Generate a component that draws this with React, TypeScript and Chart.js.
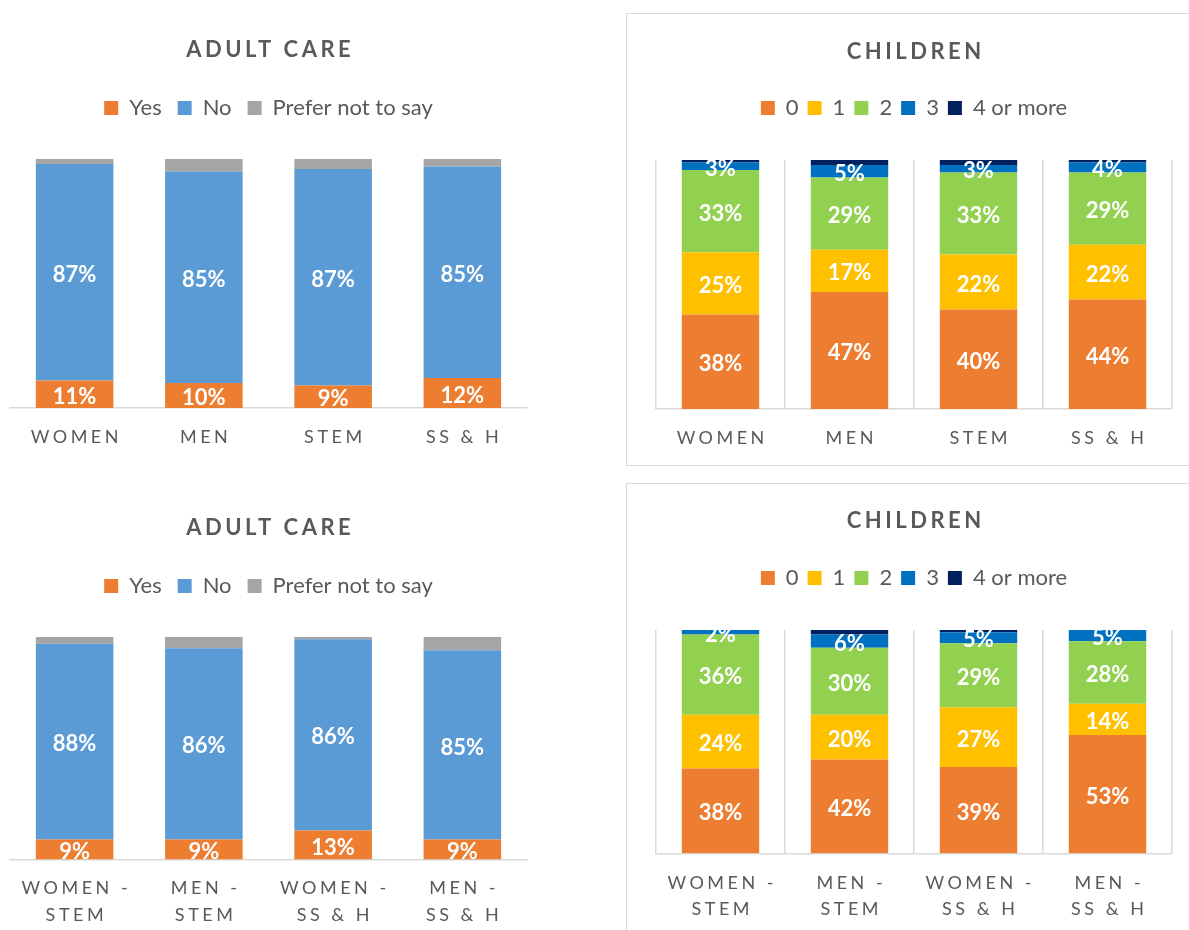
import React, { useEffect, useRef } from 'react';
import { Chart, registerables } from 'chart.js';

Chart.register(...registerables);

const FONT = 'Lato';
const TEXT = '#595959';
const RULE = '#d9d9d9';

// ---------- data ----------
const adultTitle = 'ADULT CARE';
const childrenTitle = 'CHILDREN';

const groupCategories = ['WOMEN', 'MEN', 'STEM', 'SS & H'];
const crossCategories = [
  ['WOMEN -', 'STEM'],
  ['MEN -', 'STEM'],
  ['WOMEN -', 'SS & H'],
  ['MEN -', 'SS & H'],
];

const adultSeries = ['Yes', 'No', 'Prefer not to say'];
const adultColors = ['#ED7D31', '#5B9BD5', '#A5A5A5'];

const adultYesGroup = [11, 10, 9, 12];
const adultNoGroup = [87, 85, 87, 85];
const adultPreferGroup = [2, 5, 4, 3];

const adultYesCross = [9, 9, 13, 9];
const adultNoCross = [88, 86, 86, 85];
const adultPreferCross = [3, 5, 1, 6];

const childSeries = ['0', '1', '2', '3', '4 or more'];
const childColors = ['#ED7D31', '#FFC000', '#92D050', '#0070C0', '#002060'];

const kids0Group = [38, 47, 40, 44];
const kids1Group = [25, 17, 22, 22];
const kids2Group = [33, 29, 33, 29];
const kids3Group = [3, 5, 3, 4];
const kids4Group = [1, 2, 2, 1];

const kids0Cross = [38, 42, 39, 53];
const kids1Cross = [24, 20, 27, 14];
const kids2Cross = [36, 30, 29, 28];
const kids3Cross = [2, 6, 5, 5];
const kids4Cross = [0, 2, 1, 0];

// series whose values are not printed on the bars
const unlabeledSeries = ['Prefer not to say', '4 or more'];

// 100% stacked: each column is scaled to its own total
function buildDatasets(names: string[], colors: string[], values: number[][]) {
  const n = values[0].length;
  const totals = Array.from({ length: n }, (_, j) => values.reduce((s, v) => s + v[j], 0));
  return names.map((name, i) => ({
    label: name,
    data: values[i].map((v, j) => (v / totals[j]) * 100),
    rawValues: values[i],
    showValues: !unlabeledSeries.includes(name),
    backgroundColor: colors[i],
    borderWidth: 0,
    categoryPercentage: 1,
    barPercentage: 0.6,
  }));
}

// ---------- plugins ----------
const tweaksPlugin = {
  id: 'tweaks',
  beforeLayout(chart: any, _args: any, opts: any) {
    if (chart.$tweaked) return;
    chart.$tweaked = true;
    const legend = chart.legend;
    if (legend) {
      const fit = legend.fit;
      legend.fit = function () {
        fit.call(this);
        this.height += opts.legendGap || 0;
      };
    }
    const title = chart.titleBlock;
    if (title) {
      const draw = title.draw;
      title.draw = function (...a: any[]) {
        const ctx = this.ctx;
        ctx.save();
        ctx.letterSpacing = opts.titleSpacing + 'px';
        ctx.translate(opts.titleSpacing / 2, 0);
        draw.apply(this, a);
        ctx.restore();
      };
    }
  },
  beforeDraw(chart: any, _args: any, opts: any) {
    const x = chart.scales.x;
    if (!x || x.$tweaked) return;
    x.$tweaked = true;
    const drawLabels = x.drawLabels;
    x.drawLabels = function (...a: any[]) {
      const ctx = this.ctx;
      ctx.save();
      ctx.letterSpacing = opts.tickSpacing + 'px';
      ctx.translate(opts.tickSpacing / 2, 0);
      drawLabels.apply(this, a);
      ctx.restore();
    };
  },
};

const barLabelsPlugin = {
  id: 'barLabels',
  afterDatasetsDraw(chart: any) {
    const { ctx, chartArea } = chart;
    ctx.save();
    ctx.beginPath();
    ctx.rect(chartArea.left, chartArea.top, chartArea.right - chartArea.left, chartArea.bottom - chartArea.top);
    ctx.clip();
    ctx.font = `bold 22px ${FONT}`;
    ctx.fillStyle = '#ffffff';
    ctx.textAlign = 'center';
    ctx.textBaseline = 'middle';
    chart.data.datasets.forEach((ds: any, i: number) => {
      if (!ds.showValues) return;
      const meta = chart.getDatasetMeta(i);
      meta.data.forEach((bar: any, j: number) => {
        const raw = ds.rawValues[j];
        if (!raw) return;
        const p = bar.getProps(['x', 'y', 'base'], true);
        ctx.fillText(`${raw}%`, p.x, (p.y + p.base) / 2 + 2.5);
      });
    });
    ctx.restore();
  },
};

// ---------- panels ----------
type Panel = {
  left: number;
  top: number;
  boxed: boolean;
  boxW: number;
  boxH: number;
  canvasW: number;
  canvasH: number;
  padding: { left: number; right: number; top: number; bottom: number };
  title: string;
  titlePad: { top: number; bottom: number };
  legendPad: number;
  legendGap: number;
  tickPad: number;
  tickLineHeight: number;
  grid: boolean;
  labels: any[];
  datasets: any[];
};

const panels: Panel[] = [
  {
    left: 0, top: 0, boxed: false, boxW: 540, boxH: 470, canvasW: 540, canvasH: 467,
    padding: { left: 10, right: 13, top: 0, bottom: 0 },
    title: adultTitle, titlePad: { top: 36.5, bottom: 18.1 }, legendPad: 16, legendGap: 30,
    tickPad: 16, tickLineHeight: 1.5, grid: false,
    labels: groupCategories,
    datasets: buildDatasets(adultSeries, adultColors, [adultYesGroup, adultNoGroup, adultPreferGroup]),
  },
  {
    left: 626, top: 13, boxed: true, boxW: 700, boxH: 453, canvasW: 562, canvasH: 454,
    padding: { left: 29, right: 17, top: 0, bottom: 0 },
    title: childrenTitle, titlePad: { top: 24.8, bottom: 22.8 }, legendPad: 9, legendGap: 31,
    tickPad: 16, tickLineHeight: 1.5, grid: true,
    labels: groupCategories,
    datasets: buildDatasets(childSeries, childColors, [kids0Group, kids1Group, kids2Group, kids3Group, kids4Group]),
  },
  {
    left: 0, top: 470, boxed: false, boxW: 540, boxH: 460, canvasW: 540, canvasH: 475,
    padding: { left: 10, right: 13, top: 0, bottom: 0.5 },
    title: adultTitle, titlePad: { top: 44.8, bottom: 17.8 }, legendPad: 16, legendGap: 30,
    tickPad: 15.5, tickLineHeight: 1.5, grid: false,
    labels: crossCategories,
    datasets: buildDatasets(adultSeries, adultColors, [adultYesCross, adultNoCross, adultPreferCross]),
  },
  {
    left: 626, top: 483, boxed: true, boxW: 700, boxH: 500, canvasW: 562, canvasH: 455,
    padding: { left: 29, right: 17, top: 0, bottom: 0.4 },
    title: childrenTitle, titlePad: { top: 23.8, bottom: 23.8 }, legendPad: 9, legendGap: 31,
    tickPad: 17.1, tickLineHeight: 1.42, grid: true,
    labels: crossCategories,
    datasets: buildDatasets(childSeries, childColors, [kids0Cross, kids1Cross, kids2Cross, kids3Cross, kids4Cross]),
  },
];

function StackedPanel({ panel }: { panel: Panel }) {
  const ref = useRef<HTMLCanvasElement | null>(null);
  useEffect(() => {
    if (!ref.current) return;
    const chart = new Chart(ref.current, {
      type: 'bar',
      data: { labels: panel.labels, datasets: panel.datasets as any },
      plugins: [tweaksPlugin as any, barLabelsPlugin as any],
      options: {
        responsive: false,
        animation: false,
        events: [],
        layout: { padding: panel.padding },
        plugins: {
          title: {
            display: true,
            text: panel.title,
            color: TEXT,
            font: { family: FONT, size: 22, weight: 'bold', lineHeight: 1.2 },
            padding: panel.titlePad,
          },
          legend: {
            display: true,
            position: 'top',
            labels: {
              color: TEXT,
              font: { family: FONT, size: 22 },
              boxWidth: 14,
              boxHeight: 14,
              padding: panel.legendPad,
            },
          },
          tooltip: { enabled: false },
          tweaks: { legendGap: panel.legendGap, titleSpacing: 3.5, tickSpacing: 3.5 },
        } as any,
        scales: {
          x: {
            stacked: true,
            offset: true,
            grid: { display: panel.grid, offset: true, color: RULE, lineWidth: 1.5, drawTicks: false },
            border: { display: true, color: RULE, width: 1.5 },
            ticks: {
              color: TEXT,
              font: { family: FONT, size: 18, lineHeight: panel.tickLineHeight },
              padding: panel.tickPad,
              autoSkip: false,
              maxRotation: 0,
              minRotation: 0,
            },
          },
          y: { stacked: true, display: false, min: 0, max: 100 },
        },
      },
    });
    return () => chart.destroy();
  }, [panel]);

  return (
    <div
      style={{
        position: 'absolute',
        left: panel.left,
        top: panel.top,
        width: panel.boxW,
        height: panel.boxH,
        boxSizing: 'border-box',
        border: panel.boxed ? `1px solid ${RULE}` : 'none',
        background: '#fff',
      }}
    >
      <canvas
        ref={ref}
        width={panel.canvasW}
        height={panel.canvasH}
        style={{ position: 'absolute', left: 0, top: 0, width: panel.canvasW, height: panel.canvasH }}
      />
    </div>
  );
}

export default function App() {
  return (
    <div
      style={{
        position: 'absolute',
        left: 0,
        top: 0,
        width: 1189,
        height: 930,
        overflow: 'hidden',
        background: '#fff',
        fontFamily: FONT,
      }}
    >
      {panels.map((p, i) => (
        <StackedPanel key={i} panel={p} />
      ))}
    </div>
  );
}
